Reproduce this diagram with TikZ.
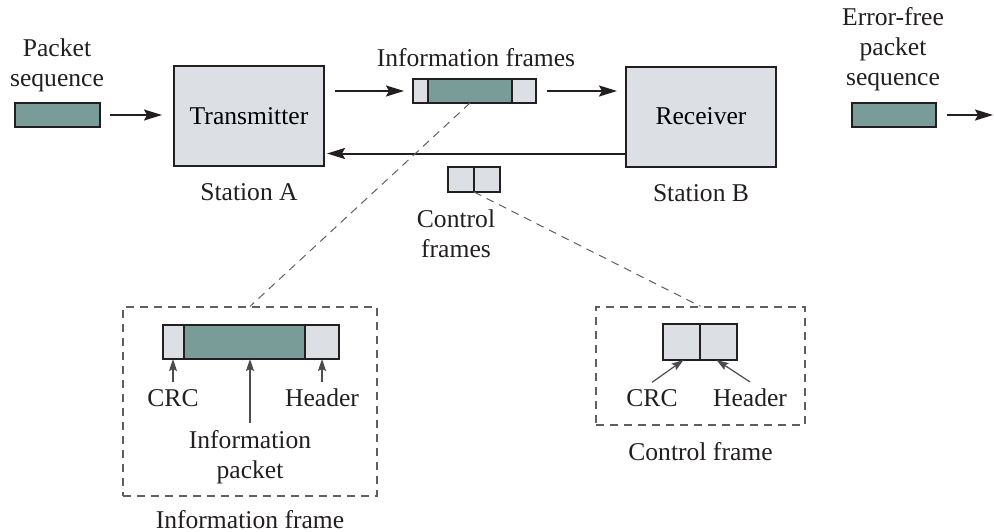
\documentclass[tikz,border=0pt]{standalone}
\usepackage{fontspec}
\setmainfont{Liberation Serif}
\usepackage{tikz}
\usetikzlibrary{positioning, arrows.meta}
\definecolor{cellgray}{RGB}{220,224,228}
\definecolor{cellteal}{RGB}{122,156,152}
\definecolor{edgecol}{RGB}{35,31,32}
\definecolor{guidecol}{RGB}{95,95,95}
\tikzset{
 station/.style = {
    rectangle, draw=edgecol, line width=1pt, fill=cellgray,
    minimum width=75pt,
    minimum height=50pt},
 cell/.style = {
    rectangle, draw=edgecol, line width=1pt, fill=cellgray,
    inner sep=0pt, outer sep=0pt},
 packet/.style = {
    cell, fill=cellteal},
 line/.style = {
    draw=edgecol, line width=1pt, -{Stealth[length=9pt,width=5.5pt,inset=1.5pt]}},
 pointer/.style = {
    draw=guidecol!80!black, line width=0.6pt, -{Stealth[length=6pt,width=4pt,inset=1pt]}},
 zoom line/.style = {
    draw=guidecol, line width=0.5pt, dash pattern=on 4pt off 3pt},
 detail box/.style = {
    rectangle, draw=guidecol, line width=0.6pt, dash pattern=on 4pt off 3pt},
 caption/.style = {
    align=center, text=edgecol},
}

\begin{document}
\begin{tikzpicture}[x=0.5pt, y=-0.5pt, node distance=0pt,
    every node/.style={font=\fontsize{12.8}{15}\selectfont}]
    \useasboundingbox (0,0) rectangle (994,531);

    % Place nodes
    \node [station]                  (tx)   at (249,116)   {Transmitter};
    \node [station]                  (rx)   at (701,116.5) {Receiver};
    \node [caption, below=4.9pt of tx] (stA) {Station A};
    \node [caption, below=4.9pt of rx] (stB) {Station B};

    \node [packet, minimum width=42.5pt, minimum height=12pt] (pkt) at (57.5,115) {};
    \node [caption]                  (pktL) at (57,65)  {Packet\\sequence};
    \node [packet, minimum width=42pt, minimum height=12pt]   (outpkt) at (894,115) {};
    \node [caption]                  (outL) at (893,49) {Error-free\\packet\\sequence};
    \coordinate (exit) at (993,115);

    % information frame on the link
    \node [cell, minimum width=7.5pt, minimum height=12pt, anchor=west] (crcA) at (413,91) {};
    \node [packet, minimum width=42pt, minimum height=12pt, right=of crcA] (infoA) {};
    \node [cell, minimum width=12pt, minimum height=12pt, right=of infoA]  (hdrA)  {};
    \node [caption] (ifL) at (476,58) {Information frames};

    % control frame on the link
    \node [cell, minimum width=13pt, minimum height=12.5pt, anchor=west] (crcC) at (448,179.5) {};
    \node [cell, minimum width=13pt, minimum height=12.5pt, right=of crcC] (hdrC) {};
    \node [caption] (cfL) at (456,234) {Control\\frames};

    % detail of the information frame
    \node [detail box, minimum width=127pt, minimum height=94.5pt] (ibox) at (250,401.5) {};
    \node [caption, below=3.4pt of ibox] (iboxL) {Information frame};
    \node [cell, minimum width=10.5pt, minimum height=17pt, anchor=west] (crcB) at (163,342) {};
    \node [packet, minimum width=60.5pt, minimum height=17pt, right=of crcB] (infoB) {};
    \node [cell, minimum width=17pt, minimum height=17pt, right=of infoB] (hdrB) {};
    \node [caption] (crcBL)  at (173,398) {CRC};
    \node [caption] (hdrBL)  at (322,398) {Header};
    \node [caption] (infoBL) at (250,457) {Information\\packet};

    % detail of the control frame
    \node [detail box, minimum width=104.5pt, minimum height=59pt] (cbox) at (700.5,366) {};
    \node [caption, below=4.9pt of cbox] (cboxL) {Control frame};
    \node [cell, minimum width=18.5pt, minimum height=18pt, anchor=west] (crcD) at (663,342) {};
    \node [cell, minimum width=18.5pt, minimum height=18pt, right=of crcD] (hdrD) {};
    \node [caption] (crcDL) at (652,398) {CRC};
    \node [caption] (hdrDL) at (750,398) {Header};

    % links
    \path [line, shorten <=5pt, shorten >=5.5pt] (pkt.east) -- (pkt.east -| tx.west);
    \path [line, shorten <=5pt, shorten >=4.5pt] (tx.east |- crcA.west) -- (crcA.west);
    \path [line, shorten <=5.5pt, shorten >=4pt] (hdrA.east) -- (hdrA.east -| rx.west);
    \path [line, shorten >=1pt] ([yshift=7pt]rx.south west) -- ([yshift=7pt]rx.south west -| tx.east);
    \path [line, shorten <=5.5pt] (outpkt.east) -- (exit);

    \path [zoom line] (infoA.south) -- (ibox.north);
    \path [zoom line] (crcC.south east) -- (cbox.north);

    \path [pointer] (crcBL.north) -- (crcBL.north |- crcB.south);
    \path [pointer] (hdrBL.north) -- (hdrBL.north |- hdrB.south);
    \path [pointer] (infoBL.north) -- (infoBL.north |- infoB.south);
    \path [pointer] (crcDL.north) -- ([xshift=1pt]crcD.south);
    \path [pointer] (hdrDL.north) -- ([xshift=-1pt]hdrD.south);

\end{tikzpicture}
\end{document}
